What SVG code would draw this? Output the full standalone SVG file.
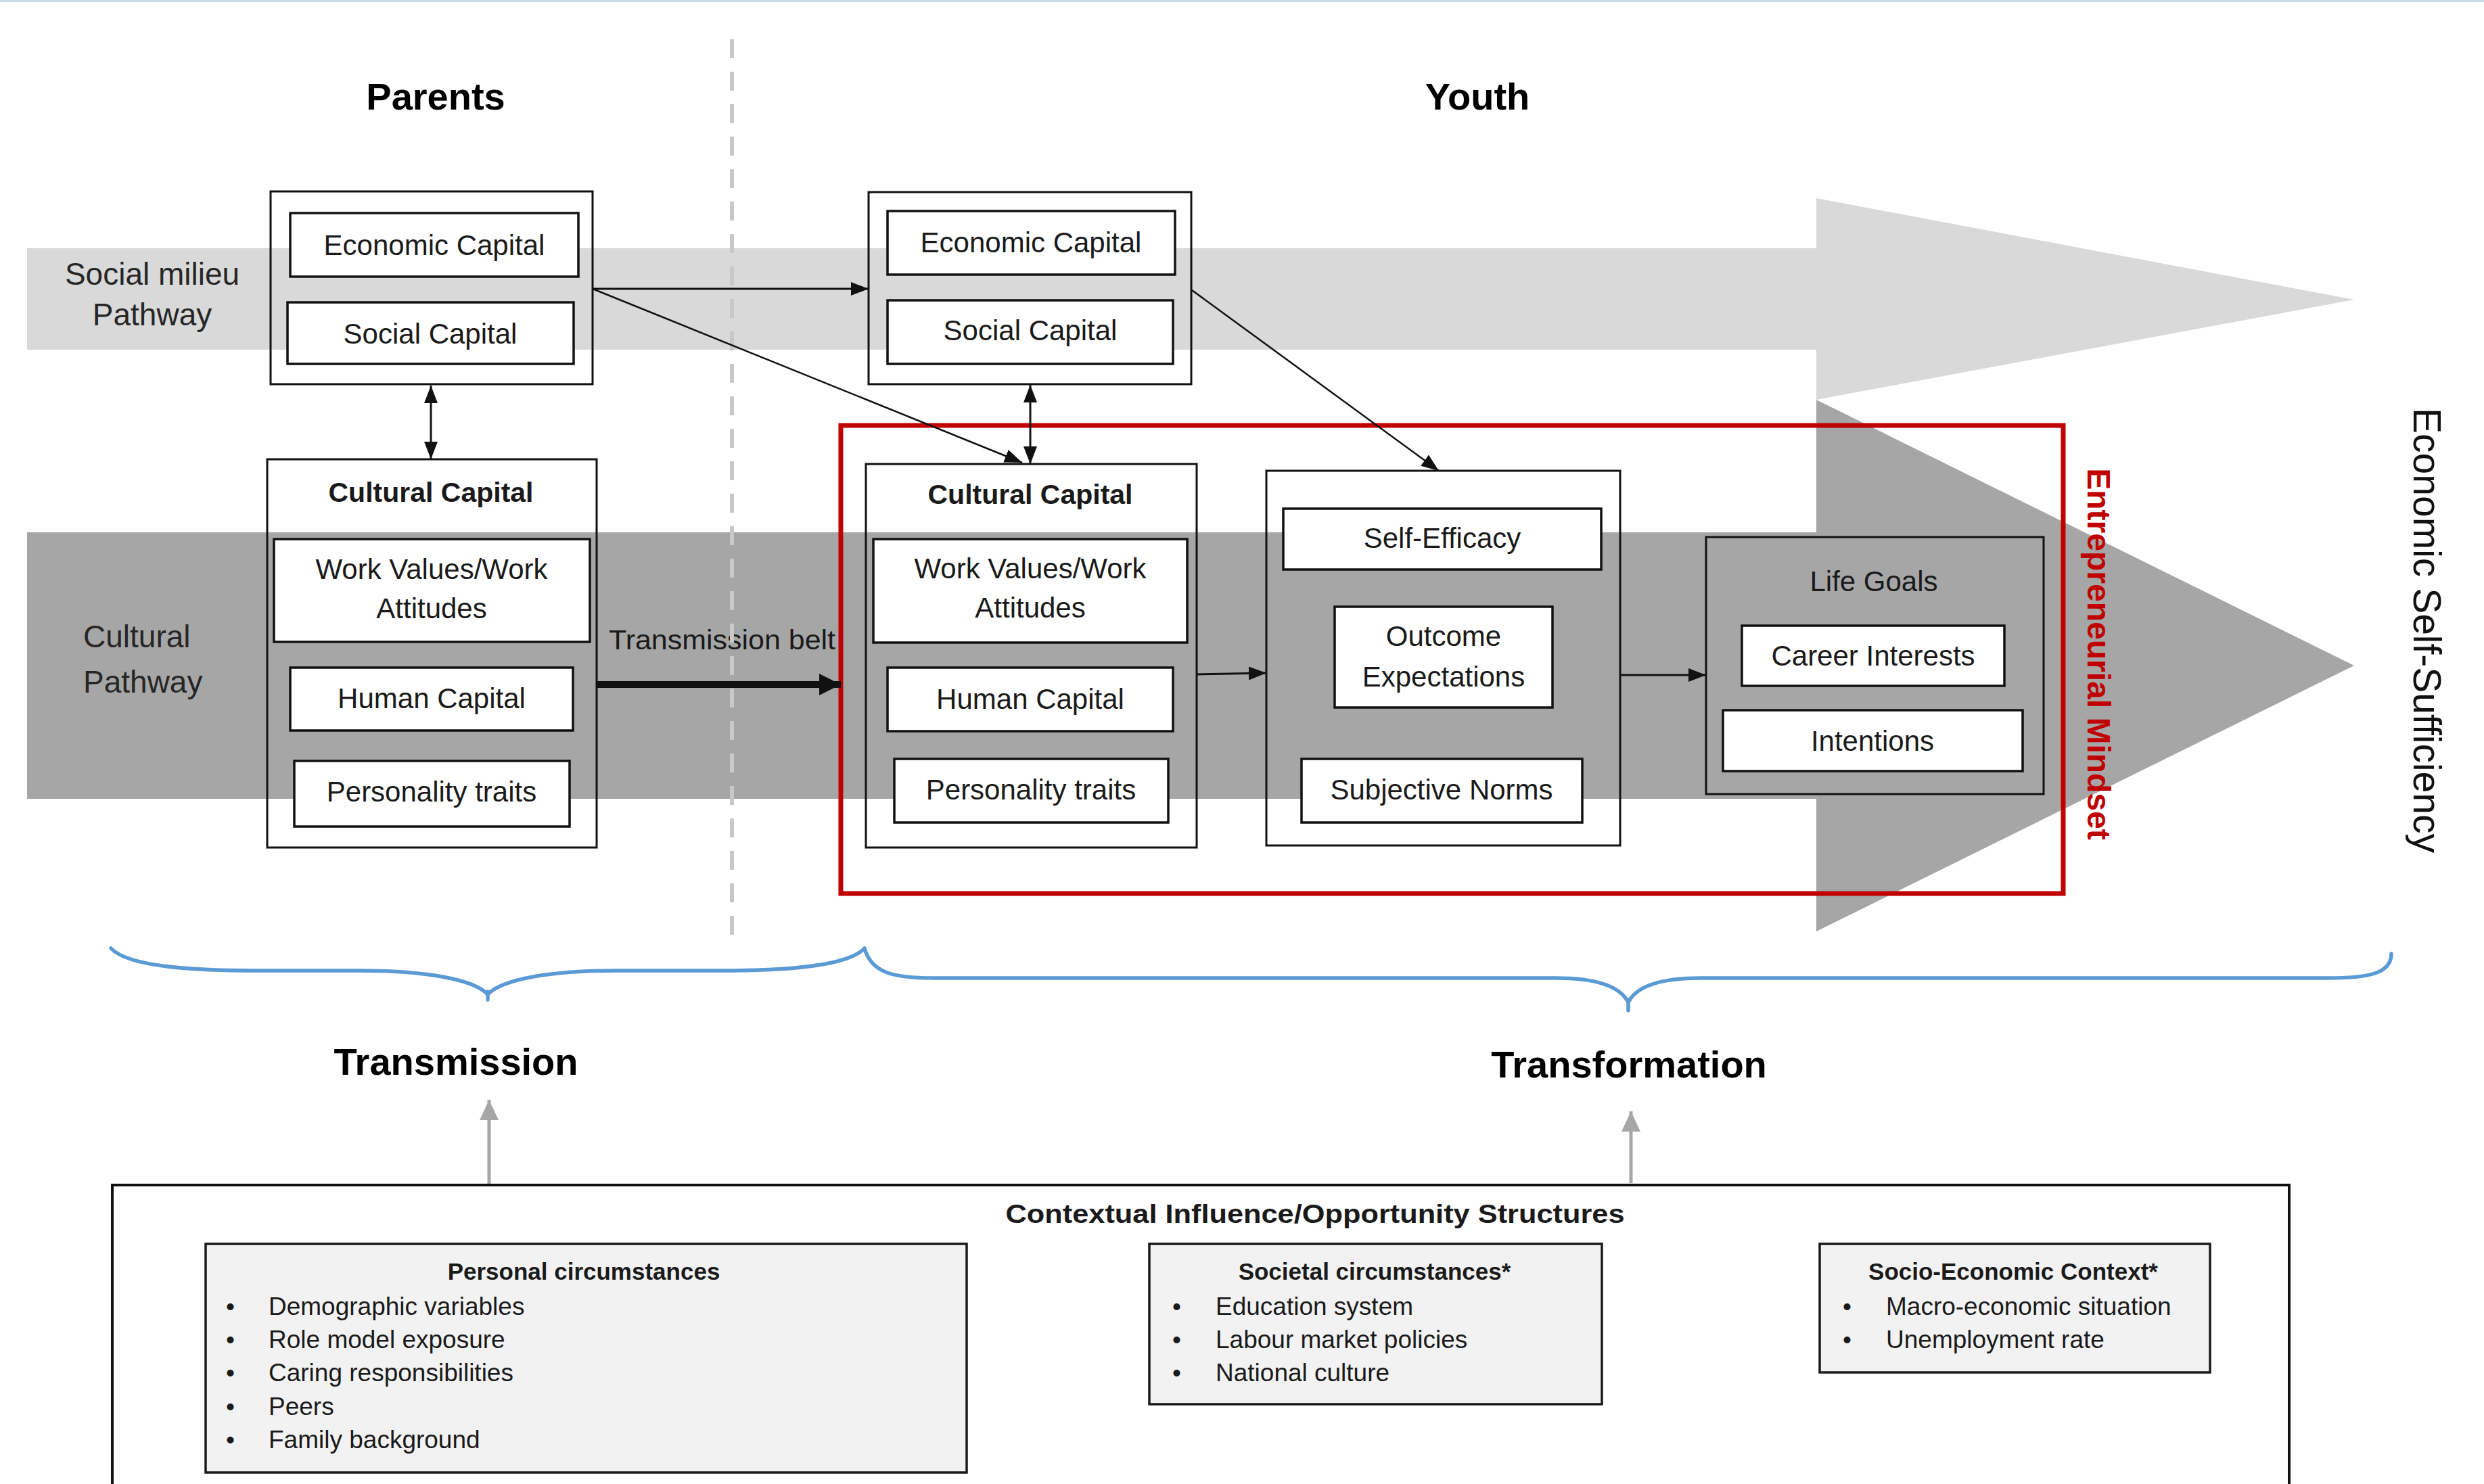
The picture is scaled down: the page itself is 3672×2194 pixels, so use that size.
<svg xmlns="http://www.w3.org/2000/svg" width="3672" height="2194" viewBox="0 0 3672 2194">
<defs>
<style>
text{font-family:"Liberation Sans",Arial,sans-serif;fill:#1a1a1a}
.bx{fill:#fff;stroke:#111;stroke-width:3.5}
.grp{fill:none;stroke:#111;stroke-width:3}
.t{font-size:42px;text-anchor:middle}
.tb{font-size:41px;font-weight:bold;text-anchor:middle}
.lab{font-size:46px;fill:#262626}
.hd{font-size:56px;font-weight:bold;text-anchor:middle;fill:#000}
.ln{stroke:#111;fill:none}
.cb{fill:#f2f2f2;stroke:#1a1a1a;stroke-width:3.5}
.ct{font-size:35px;font-weight:bold;text-anchor:middle}
.it{font-size:37px}
.brace{fill:none;stroke:#5b9bd5;stroke-width:5.5;stroke-linecap:round}
</style>
<marker id="ah" viewBox="0 0 10 10" refX="10" refY="5" markerUnits="userSpaceOnUse" markerWidth="26" markerHeight="20" orient="auto-start-reverse" preserveAspectRatio="none"><path d="M0,0 L10,5 L0,10 z" fill="#111"/></marker>
<marker id="ahb" viewBox="0 0 10 10" refX="10" refY="5" markerUnits="userSpaceOnUse" markerWidth="32" markerHeight="32" orient="auto" preserveAspectRatio="none"><path d="M0,0 L10,5 L0,10 z" fill="#111"/></marker>
<marker id="ahg" viewBox="0 0 10 10" refX="10" refY="5" markerUnits="userSpaceOnUse" markerWidth="30" markerHeight="28" orient="auto" preserveAspectRatio="none"><path d="M0,0 L10,5 L0,10 z" fill="#a6a6a6"/></marker>
</defs>
<rect x="0" y="0" width="3672" height="2194" fill="#fff"/>
<rect x="0" y="0" width="3672" height="3" fill="#c9dfe9"/>

<g id="pathways">
<polygon points="40,367 2685,367 2685,293 3480,443 2685,591 2685,517 40,517" fill="#d9d9d9"/>
<polygon points="40,787 2685,787 2685,591 3480,984 2685,1377 2685,1181 40,1181" fill="#a6a6a6"/>
</g>

<g id="headings">
<text class="hd" x="644" y="162">Parents</text>
<text class="hd" x="2184" y="162">Youth</text>
<text class="lab" x="225" y="421" text-anchor="middle">Social milieu</text>
<text class="lab" x="225" y="481" text-anchor="middle">Pathway</text>
<text class="lab" x="123" y="957" font-size="49">Cultural</text>
<text class="lab" x="123" y="1024" font-size="49">Pathway</text>
<text x="900" y="960" font-size="40" textLength="335" lengthAdjust="spacingAndGlyphs">Transmission belt</text>
</g>

<line id="divider" x1="1082" y1="58" x2="1082" y2="1384" stroke="#c8c8c8" stroke-width="6" stroke-dasharray="28 20"/>

<g id="parents-social">
<rect class="grp" x="400" y="283" width="476" height="285"/>
<rect class="bx" x="429" y="315" width="426" height="94"/>
<text class="t" x="642" y="377">Economic Capital</text>
<rect class="bx" x="425" y="447" width="423" height="91"/>
<text class="t" x="636" y="508">Social Capital</text>
</g>

<g id="youth-social">
<rect class="grp" x="1284" y="284" width="477" height="284"/>
<rect class="bx" x="1312" y="312" width="425" height="94"/>
<text class="t" x="1524" y="373">Economic Capital</text>
<rect class="bx" x="1312" y="444" width="422" height="94"/>
<text class="t" x="1523" y="503">Social Capital</text>
</g>

<g id="parents-cultural">
<rect class="grp" x="395" y="679" width="487" height="574"/>
<text class="tb" x="637" y="742">Cultural Capital</text>
<rect class="bx" x="405" y="797" width="467" height="152"/>
<text class="t" x="638" y="856">Work Values/Work</text>
<text class="t" x="638" y="914">Attitudes</text>
<rect class="bx" x="429" y="987" width="418" height="93"/>
<text class="t" x="638" y="1047">Human Capital</text>
<rect class="bx" x="435" y="1125" width="407" height="97"/>
<text class="t" x="638" y="1185">Personality traits</text>
</g>

<g id="youth-cultural">
<rect class="grp" x="1280" y="686" width="489" height="567"/>
<text class="tb" x="1523" y="745">Cultural Capital</text>
<rect class="bx" x="1291" y="797" width="464" height="153"/>
<text class="t" x="1523" y="855">Work Values/Work</text>
<text class="t" x="1523" y="913">Attitudes</text>
<rect class="bx" x="1312" y="987" width="422" height="94"/>
<text class="t" x="1523" y="1048">Human Capital</text>
<rect class="bx" x="1322" y="1122" width="405" height="94"/>
<text class="t" x="1524" y="1182">Personality traits</text>
</g>

<g id="youth-beliefs">
<rect class="grp" x="1872" y="696" width="523" height="554"/>
<rect class="bx" x="1897" y="752" width="470" height="90"/>
<text class="t" x="2132" y="810">Self-Efficacy</text>
<rect class="bx" x="1973" y="897" width="322" height="149"/>
<text class="t" x="2134" y="955">Outcome</text>
<text class="t" x="2134" y="1015">Expectations</text>
<rect class="bx" x="1924" y="1122" width="415" height="94"/>
<text class="t" x="2131" y="1182">Subjective  Norms</text>
</g>

<g id="life-goals">
<rect x="2522" y="794" width="499" height="380" fill="#a6a6a6" stroke="#111" stroke-width="3"/>
<text class="t" x="2770" y="874">Life Goals</text>
<rect class="bx" x="2575" y="925" width="388" height="89"/>
<text class="t" x="2769" y="984">Career Interests</text>
<rect class="bx" x="2547" y="1050" width="443" height="90"/>
<text class="t" x="2768" y="1110">Intentions</text>
</g>

<g id="mindset">
<rect x="1243" y="629" width="1807" height="692" fill="none" stroke="#c00000" stroke-width="7"/>
<text transform="translate(3086,967) rotate(90)" x="0" y="0" font-size="48" font-weight="bold" text-anchor="middle" style="fill:#c00000">Entrepreneurial Mindset</text>
</g>

<g id="outcome">
<text transform="translate(3568,932) rotate(90)" x="0" y="0" font-size="57" text-anchor="middle" style="fill:#111">Economic Self-Sufficiency</text>
</g>

<g id="connectors">
<line class="ln" x1="876" y1="427" x2="1284" y2="427" stroke-width="3" marker-end="url(#ah)"/>
<line class="ln" x1="876" y1="427" x2="1511" y2="684" stroke-width="2.5" marker-end="url(#ah)"/>
<line class="ln" x1="637" y1="570" x2="637" y2="679" stroke-width="3" marker-start="url(#ah)" marker-end="url(#ah)"/>
<line class="ln" x1="1523" y1="569" x2="1523" y2="686" stroke-width="3" marker-start="url(#ah)" marker-end="url(#ah)"/>
<line class="ln" x1="1762" y1="429" x2="2127" y2="696" stroke-width="2.5" marker-end="url(#ah)"/>
<line class="ln" x1="883" y1="1012" x2="1243" y2="1012" stroke-width="10" marker-end="url(#ahb)"/>
<line class="ln" x1="1769" y1="997" x2="1872" y2="995" stroke-width="3" marker-end="url(#ah)"/>
<line class="ln" x1="2395" y1="998" x2="2522" y2="998" stroke-width="3" marker-end="url(#ah)"/>
<line x1="723" y1="1752" x2="723" y2="1626" stroke="#a6a6a6" stroke-width="5" marker-end="url(#ahg)"/>
<line x1="2411" y1="1749" x2="2411" y2="1643" stroke="#a6a6a6" stroke-width="5" marker-end="url(#ahg)"/>
</g>

<g id="braces">
<path class="brace" d="M164,1402 C190,1430 290,1435 378,1435 L530,1435 C630,1435 700,1448 721,1470 C742,1448 812,1435 912,1435 L1064,1435 C1152,1435 1252,1430 1278,1402"/>
<path class="brace" d="M721,1466 L721,1478"/>
<path class="brace" d="M1278,1402 C1288,1438 1320,1446 1380,1446 L2300,1446 C2360,1446 2395,1458 2407,1482 C2419,1458 2454,1446 2514,1446 L3440,1446 C3500,1446 3535,1440 3535,1410"/>
<path class="brace" d="M2407,1478 L2407,1494"/>
</g>

<g id="phases">
<text class="hd" x="674" y="1589" font-size="55">Transmission</text>
<text class="hd" x="2408" y="1593" font-size="55">Transformation</text>
</g>

<g id="context">
<rect x="166" y="1752" width="3218" height="520" fill="#fff" stroke="#111" stroke-width="4"/>
<text x="1944" y="1808" font-size="38" font-weight="bold" text-anchor="middle" textLength="915" lengthAdjust="spacingAndGlyphs">Contextual Influence/Opportunity Structures</text>
</g>

<g id="personal">
<rect class="cb" x="304" y="1839" width="1125" height="338"/>
<text class="ct" x="863" y="1892">Personal  circumstances</text>
<g class="it">
<text x="334" y="1944">•</text><text x="397" y="1944">Demographic variables</text>
<text x="334" y="1993">•</text><text x="397" y="1993">Role model exposure</text>
<text x="334" y="2042">•</text><text x="397" y="2042">Caring responsibilities</text>
<text x="334" y="2092">•</text><text x="397" y="2092">Peers</text>
<text x="334" y="2141">•</text><text x="397" y="2141">Family background</text>
</g>
</g>

<g id="societal">
<rect class="cb" x="1699" y="1839" width="669" height="237"/>
<text class="ct" x="2032" y="1892">Societal circumstances*</text>
<g class="it">
<text x="1733" y="1944">•</text><text x="1797" y="1944">Education system</text>
<text x="1733" y="1993">•</text><text x="1797" y="1993">Labour market policies</text>
<text x="1733" y="2042">•</text><text x="1797" y="2042">National culture</text>
</g>
</g>

<g id="socio-economic">
<rect class="cb" x="2690" y="1839" width="577" height="190"/>
<text class="ct" x="2976" y="1892">Socio-Economic  Context*</text>
<g class="it">
<text x="2724" y="1944">•</text><text x="2788" y="1944">Macro-economic situation</text>
<text x="2724" y="1993">•</text><text x="2788" y="1993">Unemployment rate</text>
</g>
</g>
</svg>
